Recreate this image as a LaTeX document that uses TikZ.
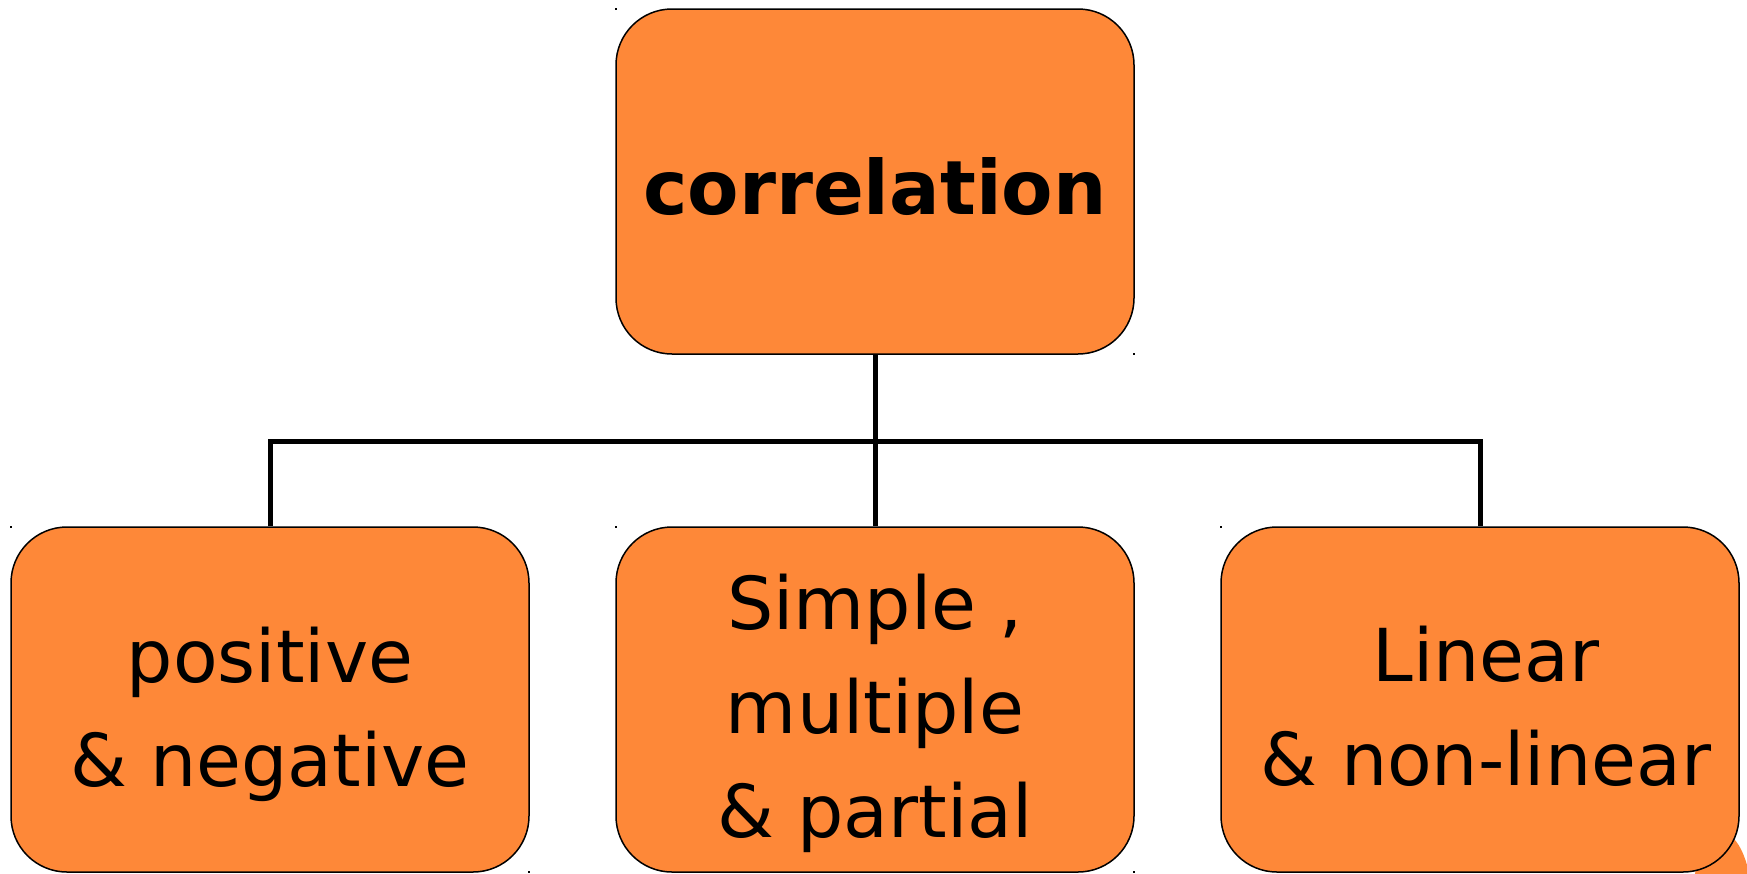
\documentclass[tikz,border=0pt]{standalone}
\usepackage{fontspec}
\setmainfont{DejaVu Sans}
\definecolor{boxorange}{RGB}{254,136,56}
\begin{document}
\begin{tikzpicture}[x=1pt,y=-1pt,
  box/.style={draw=black, line width=1.5pt, fill=boxorange, rounded corners=56pt,
    minimum width=518pt, minimum height=345pt, inner sep=0pt},
  conn/.style={line width=5pt, draw=black},
  lbl/.style={font=\fontsize{73}{104}\selectfont, align=center, inner sep=0pt},
  toplbl/.style={font=\fontsize{75}{90}\selectfont\bfseries, inner sep=0pt},
  handle/.style={fill=black, minimum size=2.5pt, inner sep=0pt}]
\useasboundingbox (0,0) rectangle (1747,873);
\begin{scope}
  \clip (0,0) rectangle (1747,873);
  \fill[boxorange] (1722,905) ellipse [x radius=30, y radius=72];
\end{scope}
% boxes
\node[box] (top) at (875,181.5) {};
\node[box] (left) at (270,699.5) {};
\node[box] (mid) at (875,699.5) {};
\node[box] (right) at (1480,699.5) {};
% labels
\node[toplbl] (toplabel) at (875,187) {correlation};
\node[lbl] (leftlabel) at (270,714.5) {positive\\\& negative};
\node[lbl] (midlabel) at (875,713.5) {Simple ,\\multiple\\\& partial};
\node[lbl] (rightlabel) at (1486,706.5) {Linear\\\& non-linear};
% connectors
\coordinate (bus) at (875,441);
\draw[conn] (top.south) -- (bus);
\draw[conn] (bus) -- (mid.north);
\draw[conn] (left.north) |- (bus) -| (right.north);
% selection handles
\node[handle] (h1) at (616,9) {};
\node[handle] (h2) at (1134,354) {};
\node[handle] (h3) at (11,527) {};
\node[handle] (h4) at (529,872) {};
\node[handle] (h5) at (616,527) {};
\node[handle] (h6) at (1134,872) {};
\node[handle] (h7) at (1221,527) {};
\end{tikzpicture}
\end{document}
